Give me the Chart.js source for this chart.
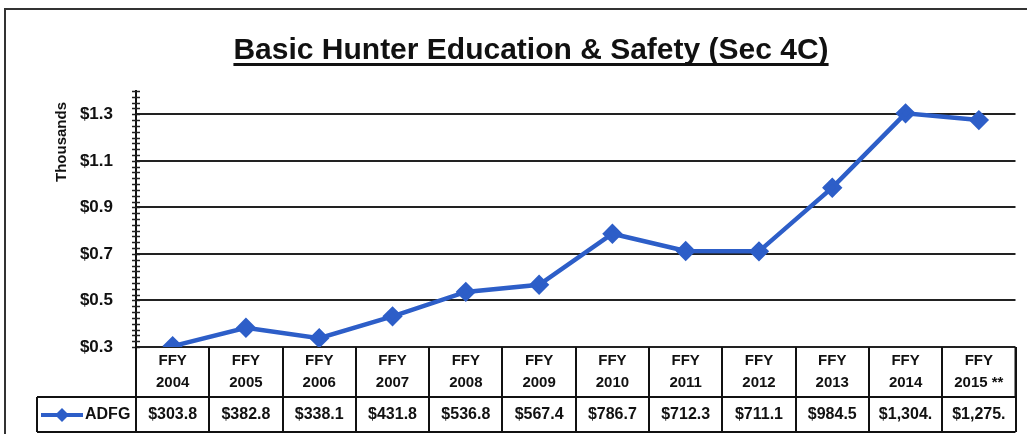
<!DOCTYPE html>
<html>
<head>
<meta charset="utf-8">
<script src="https://cdn.jsdelivr.net/npm/chart.js@4"></script>
<style>
  html, body { margin: 0; padding: 0; background: #fff; }
  #wrap { width: 1027px; height: 434px; position: relative; }
</style>
</head>
<body>
<div id="wrap"><canvas id="myChart" width="1027" height="434"></canvas></div>
<script>
// data
const years = ['2004', '2005', '2006', '2007', '2008', '2009', '2010', '2011', '2012', '2013', '2014', '2015 **'];
const adfg = [303.8, 382.8, 338.1, 431.8, 536.8, 567.4, 786.7, 712.3, 711.1, 984.5, 1304.0, 1275.0];
const tableLabels = ['$303.8', '$382.8', '$338.1', '$431.8', '$536.8', '$567.4', '$786.7', '$712.3', '$711.1', '$984.5', '$1,304.', '$1,275.'];
const yTicks = [0.3, 0.5, 0.7, 0.9, 1.1, 1.3];

const FONT = '"Liberation Sans", Arial, sans-serif';
const BLUE = '#2d5ec8';

// title, frame, axis label, minor ticks and data table
const extras = {
    id: 'extras',
    afterDraw(chart) {
        const ctx = chart.ctx;
        const area = chart.chartArea;
        const x = chart.scales.x;
        const y = chart.scales.y;
        ctx.save();

        // outer frame
        ctx.strokeStyle = '#333';
        ctx.lineWidth = 2;
        ctx.beginPath();
        ctx.moveTo(5, 434);
        ctx.lineTo(5, 9);
        ctx.lineTo(1027, 9);
        ctx.stroke();

        // title with underline
        ctx.fillStyle = '#111';
        ctx.font = 'bold 30px ' + FONT;
        ctx.textAlign = 'center';
        ctx.textBaseline = 'alphabetic';
        const title = 'Basic Hunter Education & Safety (Sec 4C)';
        ctx.fillText(title, 531, 59);
        const tw = ctx.measureText(title).width;
        ctx.fillRect(531 - tw / 2, 63, tw, 3);

        // y axis title
        ctx.save();
        ctx.translate(62, 142);
        ctx.rotate(-Math.PI / 2);
        ctx.font = 'bold 15px ' + FONT;
        ctx.textBaseline = 'middle';
        ctx.fillText('Thousands', 0, 0);
        ctx.restore();

        // crossing tick marks on the value axis
        ctx.strokeStyle = '#222';
        ctx.lineWidth = 1.5;
        for (let v = 0.3; v <= 1.4001; v += 0.025) {
            const py = Math.round(y.getPixelForValue(v)) + 0.5;
            ctx.beginPath();
            ctx.moveTo(area.left - 4, py);
            ctx.lineTo(area.left + 4, py);
            ctx.stroke();
        }

        // data table
        const colW = (area.right - area.left) / years.length;
        const top = area.bottom;
        const mid = 397;
        const bot = 432;
        ctx.strokeStyle = '#111';
        ctx.lineWidth = 2;
        ctx.beginPath();
        for (let i = 0; i <= years.length; i++) {
            const cx = Math.round(x.getPixelForValue(Math.min(i, years.length - 1)) + (i === years.length ? colW / 2 : -colW / 2));
            ctx.moveTo(cx, top);
            ctx.lineTo(cx, bot);
        }
        ctx.moveTo(37, mid);
        ctx.lineTo(area.right, mid);
        ctx.moveTo(37, bot);
        ctx.lineTo(area.right, bot);
        ctx.moveTo(37, mid);
        ctx.lineTo(37, bot);
        ctx.moveTo(area.right, top);
        ctx.lineTo(area.right, mid);
        ctx.stroke();

        ctx.fillStyle = '#111';
        ctx.textAlign = 'center';
        ctx.textBaseline = 'middle';
        years.forEach((yr, i) => {
            const cx = x.getPixelForValue(i);
            ctx.font = 'bold 15px ' + FONT;
            ctx.fillText('FFY', cx, 361);
            ctx.fillText(yr, cx, 383);
            ctx.font = 'bold 16px ' + FONT;
            ctx.fillText(tableLabels[i], cx, 415);
        });

        // legend key inside table
        ctx.strokeStyle = BLUE;
        ctx.lineWidth = 4;
        ctx.beginPath();
        ctx.moveTo(41, 415);
        ctx.lineTo(83, 415);
        ctx.stroke();
        ctx.fillStyle = BLUE;
        ctx.beginPath();
        ctx.moveTo(62, 408);
        ctx.lineTo(69, 415);
        ctx.lineTo(62, 422);
        ctx.lineTo(55, 415);
        ctx.closePath();
        ctx.fill();
        ctx.fillStyle = '#111';
        ctx.font = 'bold 16px ' + FONT;
        ctx.textAlign = 'left';
        ctx.fillText('ADFG', 85, 415);

        ctx.restore();
    }
};

const ctx = document.getElementById('myChart').getContext('2d');
const myChart = new Chart(ctx, {
    type: 'line',
    data: {
        labels: years.map(yr => 'FFY ' + yr),
        datasets: [{
            label: 'ADFG',
            data: adfg.map(v => v / 1000),
            borderColor: BLUE,
            backgroundColor: BLUE,
            borderWidth: 4.5,
            pointStyle: 'rectRot',
            pointRadius: 7,
            pointHoverRadius: 7,
            tension: 0
        }]
    },
    options: {
        responsive: false,
        animation: false,
        layout: {
            padding: { left: 0, top: 91, right: 7, bottom: 87 }
        },
        plugins: {
            legend: { display: false },
            title: { display: false },
            tooltip: { enabled: false }
        },
        scales: {
            x: {
                display: false,
                offset: true
            },
            y: {
                min: 0.3,
                max: 1.4,
                afterBuildTicks: scale => {
                    scale.ticks = yTicks.map(v => ({ value: v }));
                },
                afterFit: scale => {
                    scale.width = 136;
                },
                grid: {
                    color: '#222',
                    lineWidth: 2,
                    drawTicks: false
                },
                border: { display: true, color: '#111', width: 2 },
                ticks: {
                    padding: 23,
                    color: '#111',
                    font: { family: FONT, size: 17, weight: 'bold' },
                    callback: v => '$' + Number(v).toFixed(1)
                }
            }
        }
    },
    plugins: [extras]
});
</script>
</body>
</html>
